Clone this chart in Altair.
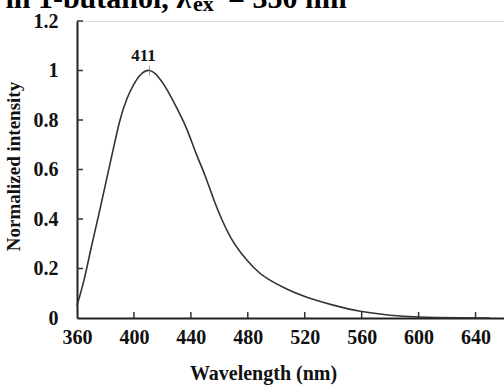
import altair as alt
import pandas as pd

# Fluorescence emission spectrum (normalized)
wavelength = [360, 365, 370, 375, 380, 385, 390, 395, 400, 405, 411, 417, 423,
              430, 437, 444, 450, 456, 462, 468, 475, 484, 493, 507, 521, 540,
              559, 580, 600, 630, 650]
intensity = [0.05, 0.155, 0.285, 0.41, 0.54, 0.67, 0.795, 0.885, 0.945, 0.985,
             1.0, 0.975, 0.925, 0.85, 0.765, 0.66, 0.575, 0.48, 0.395, 0.325,
             0.265, 0.205, 0.162, 0.118, 0.085, 0.052, 0.027, 0.011, 0.004,
             0.001, 0.0]

peak_wavelength = [411]
peak_intensity = [1.0]
peak_label = ["411"]

x_ticks = [360, 400, 440, 480, 520, 560, 600, 640]
y_ticks = [0, 0.2, 0.4, 0.6, 0.8, 1.0, 1.2]

FONT = "Liberation Serif"
W, H = 427, 297

spec = pd.DataFrame({"wl": wavelength, "v": intensity})
peak = pd.DataFrame({"wl": peak_wavelength, "v": peak_intensity, "lab": peak_label})
xt = pd.DataFrame({"wl": x_ticks[1:]})
yt = pd.DataFrame({"v": y_ticks[1:]})

xs = alt.Scale(domain=[360, 660], nice=False, zero=False)
ys = alt.Scale(domain=[0, 1.2], nice=False)

x_axis = alt.Axis(values=x_ticks, ticks=False, grid=False, labelPadding=9,
                  labelFontSize=20, labelFontWeight="bold", labelColor="#111",
                  labelFlush=False, domainColor="#222", domainWidth=2,
                  title="Wavelength (nm)", titleFontSize=20, titleFontWeight="bold",
                  titleColor="#111", titleX=186, titleY=61,
                  titleBaseline="alphabetic", titleAnchor="middle")
y_axis = alt.Axis(values=y_ticks, format=".1~f", ticks=False, grid=False,
                  labelPadding=19, labelFontSize=20, labelFontWeight="bold",
                  labelColor="#111", labelFlush=False, domainColor="#222",
                  domainWidth=2, title="Normalized intensity", titleFontSize=19,
                  titleFontWeight="bold", titleColor="#111", titleAngle=270,
                  titleX=-64, titleY=145, titleAlign="center",
                  titleBaseline="middle")

curve = alt.Chart(spec).mark_line(color="#333", strokeWidth=1.6,
                                  interpolate="natural").encode(
    x=alt.X("wl:Q", scale=xs, axis=x_axis),
    y=alt.Y("v:Q", scale=ys, axis=y_axis),
)

# inward tick marks
x_tick_marks = alt.Chart(xt).mark_rule(color="#333", strokeWidth=1.5).encode(
    x=alt.X("wl:Q", scale=xs), y=alt.value(H), y2=alt.value(H - 6))
y_tick_marks = alt.Chart(yt).mark_rule(color="#333", strokeWidth=1.5).encode(
    y=alt.Y("v:Q", scale=ys), x=alt.value(0), x2=alt.value(6))

peak_mark = alt.Chart(peak).mark_tick(color="#777", orient="vertical",
                                      thickness=1, size=10).encode(
    x=alt.X("wl:Q", scale=xs), y=alt.Y("v:Q", scale=ys))
peak_text = alt.Chart(peak).mark_text(font=FONT, fontSize=17, fontWeight="bold",
                                      color="#111", dy=-15, dx=-6).encode(
    x=alt.X("wl:Q", scale=xs), y=alt.Y("v:Q", scale=ys), text="lab:N")

# heading, partly above the top edge
head = pd.DataFrame({"t": ["in 1-butanol, λ"], "s": ["ex"], "r": ["= 350 nm"]})
head1 = alt.Chart(head).mark_text(font=FONT, fontSize=30, fontWeight="bold",
                                  align="right", baseline="alphabetic",
                                  color="#000").encode(
    text="t:N", x=alt.value(191 - 77), y=alt.value(8 - 21))
head2 = alt.Chart(head).mark_text(font=FONT, fontSize=22, fontWeight="bold",
                                  align="left", baseline="alphabetic",
                                  color="#000").encode(
    text="s:N", x=alt.value(193 - 77), y=alt.value(11 - 21))
head3 = alt.Chart(head).mark_text(font=FONT, fontSize=30, fontWeight="bold",
                                  align="left", baseline="alphabetic",
                                  color="#000").encode(
    text="r:N", x=alt.value(228 - 77), y=alt.value(8 - 21))

chart = alt.layer(curve, x_tick_marks, y_tick_marks, peak_mark, peak_text,
                  head1, head2, head3).properties(
    width=W, height=H,
    autosize=alt.AutoSizeParams(type="none"),
    padding={"left": 77, "top": 21, "right": 0, "bottom": 67},
).configure_view(stroke="#999", strokeWidth=1).configure(
    font=FONT, background="white")

chart.save("out.html", embed_options={"renderer": "svg", "actions": False})
